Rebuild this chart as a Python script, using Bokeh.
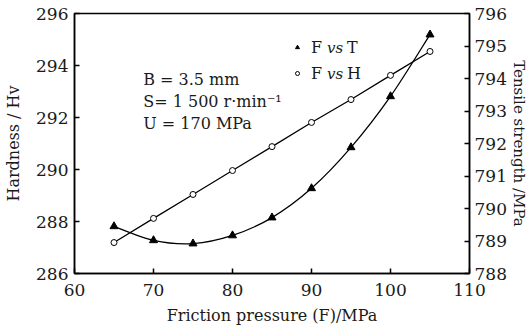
from bokeh.plotting import figure
from bokeh.models import LinearAxis, Range1d, Label, Legend, LegendItem, FixedTicker
from bokeh.embed import file_html
from bokeh.resources import INLINE

pressure = [65, 70, 75, 80, 85, 90, 95, 100, 105]
hardness = [287.19, 288.12, 289.04, 289.96, 290.88, 291.81, 292.69, 293.62, 294.54]
tensile = [789.45, 789.02, 788.92, 789.17, 789.72, 790.62, 791.88, 793.45, 795.35]

x_ticks = [60, 70, 80, 90, 100, 110]
h_ticks = [286, 288, 290, 292, 294, 296]
t_ticks = [788, 789, 790, 791, 792, 793, 794, 795, 796]

FONT = "'DejaVu Serif', 'Liberation Serif', serif"
TXT = "#1a1a1a"

p = figure(width=530, height=335, x_range=Range1d(60, 110), y_range=Range1d(286, 296),
           output_backend="svg", toolbar_location=None,
           min_border_left=74, min_border_right=61, min_border_top=13, min_border_bottom=62)
p.extra_y_ranges = {"ts": Range1d(788, 796)}
p.grid.visible = False
p.outline_line_color = "black"
p.outline_line_width = 1.5
p.background_fill_color = "white"
p.border_fill_color = "white"

# Smooth (Catmull-Rom) curve through tensile points, drawn with bezier segments
n = len(pressure)
x0, y0, x1, y1, cx0, cy0, cx1, cy1 = [], [], [], [], [], [], [], []
for i in range(n - 1):
    pm = max(i - 1, 0)
    pn = min(i + 2, n - 1)
    x0.append(pressure[i]); y0.append(tensile[i])
    x1.append(pressure[i + 1]); y1.append(tensile[i + 1])
    cx0.append(pressure[i] + (pressure[i + 1] - pressure[pm]) / 6)
    cy0.append(tensile[i] + (tensile[i + 1] - tensile[pm]) / 6)
    cx1.append(pressure[i + 1] - (pressure[pn] - pressure[i]) / 6)
    cy1.append(tensile[i + 1] - (tensile[pn] - tensile[i]) / 6)
p.bezier(x0=x0, y0=y0, x1=x1, y1=y1, cx0=cx0, cy0=cy0, cx1=cx1, cy1=cy1,
         line_color="black", line_width=1.3, y_range_name="ts")

p.line(pressure, hardness, line_color="black", line_width=1.3)

r_t = p.scatter(pressure, tensile, marker="triangle", size=8, fill_color="black",
                line_color="black", y_range_name="ts")
r_h = p.scatter(pressure, hardness, marker="circle", size=6, fill_color="white",
                line_color="black", line_width=1)


def style(ax):
    ax.axis_line_width = 1.5
    ax.major_tick_in = 5
    ax.major_tick_out = 0
    ax.major_tick_line_width = 1.5
    ax.minor_tick_line_color = None
    ax.major_label_text_font = FONT
    ax.major_label_text_font_size = "17px"
    ax.major_label_text_color = TXT
    ax.axis_label_text_font = FONT
    ax.axis_label_text_font_size = "16px"
    ax.axis_label_text_font_style = "normal"
    ax.axis_label_text_color = TXT


style(p.xaxis[0])
style(p.yaxis[0])
p.xaxis[0].ticker = FixedTicker(ticks=x_ticks)
p.yaxis[0].ticker = FixedTicker(ticks=h_ticks)
p.xaxis[0].axis_label = "Friction pressure (F)/MPa"
p.yaxis[0].axis_label = "Hardness / Hv"
p.xaxis[0].major_label_standoff = 10
p.yaxis[0].major_label_standoff = 6
p.xaxis[0].axis_label_standoff = 7
p.yaxis[0].axis_label_standoff = 10

ra = LinearAxis(y_range_name="ts", axis_label="Tensile strength /MPa",
                ticker=FixedTicker(ticks=t_ticks))
style(ra)
ra.axis_label_text_font_size = "15px"
ra.major_label_standoff = 5
ra.axis_label_standoff = 0
p.add_layout(ra, "right")

# parameter text
for txt, yy in [("B = 3.5 mm", 293.46), ("S= 1 500 r·min⁻¹", 292.62), ("U = 170 MPa", 291.78)]:
    p.add_layout(Label(x=68.7, y=yy, text=txt, text_font=FONT, text_font_size="16px",
                       text_baseline="middle", text_color=TXT))

# legend
leg = Legend(items=[LegendItem(label="F", renderers=[r_t]),
                    LegendItem(label="F", renderers=[r_h])],
             location=(218, 190), border_line_color=None, background_fill_alpha=0,
             padding=0, margin=0, glyph_width=10, glyph_height=10, label_standoff=9,
             spacing=6, label_height=20, label_text_font=FONT, label_text_font_size="16px",
             label_text_color=TXT)
p.add_layout(leg)
for txt, yy in [("T", 294.69), ("H", 293.69)]:
    p.add_layout(Label(x=91.95, y=yy, text="vs", text_font=FONT, text_font_size="15px",
                       text_font_style="italic", text_baseline="middle", text_color=TXT))
    p.add_layout(Label(x=94.5, y=yy, text=txt, text_font=FONT, text_font_size="16px",
                       text_baseline="middle", text_color=TXT))

open("out.html", "w").write(file_html(p, INLINE))
